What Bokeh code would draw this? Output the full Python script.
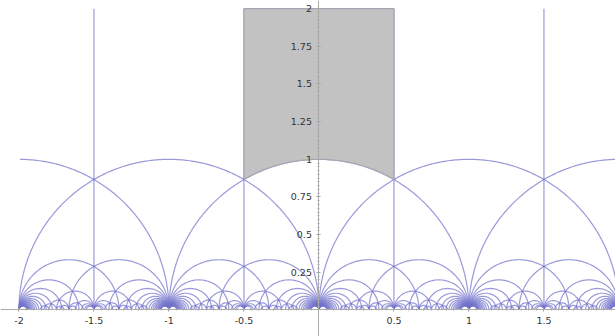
import numpy as np
from math import gcd
from bokeh.plotting import figure
from bokeh.models import FixedTicker
from bokeh.embed import file_html
from bokeh.resources import INLINE

# ---- chart values ----
x_ticks = [-2, -1.5, -1, -0.5, 0, 0.5, 1, 1.5, 2]
x_tick_labels = ["-2", "-1.5", "-1", "-0.5", "", "0.5", "1", "1.5", "2"]
y_ticks = [0.25, 0.5, 0.75, 1, 1.25, 1.5, 1.75, 2]
y_tick_labels = ["0.25", "0.5", "0.75", "1", "1.25", "1.5", "1.75", "2"]
domain_left = -0.5          # fundamental domain of SL(2,Z)
domain_right = 0.5
domain_top = 2.0
view_min, view_max = -2.0, 2.0
cusp_min, cusp_max = -3, 3
max_denom_product = 40      # geodesics between p/q and r/s with |ps-qr|=2, q*s <= this

# ---- tessellation edges: geodesics joining cusps with determinant 2 ----
fracs = []
for q in range(1, max_denom_product + 1):
    for p in range(cusp_min * q, cusp_max * q + 1):
        if gcd(p, q) == 1:
            fracs.append((p, q))

pairs = set()
for p, q in fracs:
    for s in range(1, max_denom_product // q + 1):
        for sgn in (1, -1):
            num = p * s - sgn * 2
            if num % q:
                continue
            r = num // q
            if gcd(r, s) != 1:
                continue
            if r * q > p * s:
                pairs.add((p, q, r, s))

xs, ys = [], []
for p, q, r, s in sorted(pairs):
    a, b = p / q, r / s
    c, rad = (a + b) / 2, (b - a) / 2
    if c + rad < view_min or c - rad > view_max:
        continue
    n = max(16, int(260 * rad))
    t = np.linspace(0, np.pi, n)
    px = c + rad * np.cos(t)
    py = rad * np.sin(t)
    m = (px >= view_min - 1e-9) & (px <= view_max + 1e-9)
    if m.sum() < 2:
        continue
    xs.append(px[m].tolist())
    ys.append(py[m].tolist())

# vertical geodesics from half-integers to infinity
for k in range(-4, 4):
    h = k + 0.5
    if view_min <= h <= view_max:
        xs.append([h, h])
        ys.append([0, domain_top])

p = figure(width=615, height=336, x_range=(-2.123, 1.977), y_range=(-0.176, 2.054),
           output_backend="svg", toolbar_location=None, min_border=0,
           background_fill_color="white", border_fill_color="white")
p.outline_line_color = None
p.grid.visible = False

p.multi_line(xs, ys, line_color="#7373cc", line_width=1.2, line_alpha=0.72)

# fundamental domain
t = np.linspace(np.pi / 3, 2 * np.pi / 3, 60)
fx = np.concatenate([[domain_right], np.cos(t), [domain_left]])
fy = np.concatenate([[domain_top], np.sin(t), [domain_top]])
p.patch(fx, fy, fill_color="#c2c2c2", line_color="#a6a6b2", line_width=1.2)

# axes through the origin
minor_x = [round(v, 4) for v in np.arange(-2.0, 2.001, 0.05)]
minor_y = [round(v, 4) for v in np.arange(0.0, 2.001, 0.025)]
p.xaxis.fixed_location = 0
p.yaxis.fixed_location = 0
p.xaxis.ticker = FixedTicker(ticks=x_ticks, minor_ticks=minor_x)
p.yaxis.ticker = FixedTicker(ticks=y_ticks, minor_ticks=minor_y)
p.xaxis.major_label_overrides = {t_: l for t_, l in zip(x_ticks, x_tick_labels)}
p.yaxis.major_label_overrides = {t_: l for t_, l in zip(y_ticks, y_tick_labels)}
for ax in (p.xaxis, p.yaxis):
    ax.axis_line_color = "#aaaaaa"
    ax.major_tick_line_color = "#999999"
    ax.minor_tick_line_color = "#aaaaaa"
    ax.major_tick_in = 2
    ax.major_tick_out = 2
    ax.minor_tick_in = 1
    ax.minor_tick_out = 1
    ax.major_label_text_font = "DejaVu Sans"
    ax.major_label_text_font_size = "9.5px"
    ax.major_label_text_color = "#333333"
    ax.major_label_standoff = 5

open("out.html", "w").write(file_html(p, INLINE))
